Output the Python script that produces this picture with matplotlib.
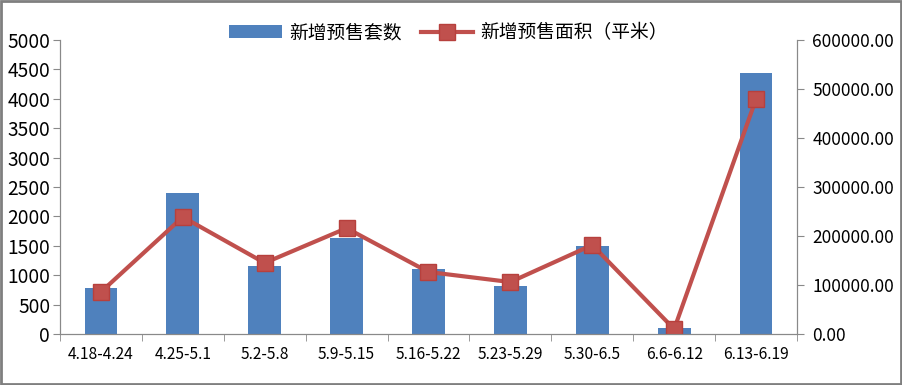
import matplotlib.pyplot as plt
import numpy as np
from matplotlib.ticker import FormatStrFormatter

plt.rcParams['font.family'] = ['Noto Sans CJK SC', 'DejaVu Sans']

weeks = ['4.18-4.24', '4.25-5.1', '5.2-5.8', '5.9-5.15', '5.16-5.22',
         '5.23-5.29', '5.30-6.5', '6.6-6.12', '6.13-6.19']
units = [790, 2390, 1150, 1640, 1110, 820, 1500, 100, 4440]
area = [85700, 238800, 145000, 216000, 126500, 106000, 181600, 10000, 479600]

bar_color = '#4F81BD'
line_color = '#C0504D'
grey = '#898989'

fig = plt.figure(figsize=(9.03, 3.85), dpi=100)
fig.patches.append(plt.Rectangle((0.001, 0.002), 0.997, 0.995, transform=fig.transFigure,
                                 fill=False, edgecolor='#7f7f7f', linewidth=2))
ax = fig.add_axes([0.0664, 0.1325, 0.8162, 0.7635])
ax2 = ax.twinx()

x = np.arange(len(weeks))
bars = ax.bar(x, units, width=0.4, color=bar_color, label='新增预售套数')
line, = ax2.plot(x, area, color=line_color, linewidth=3, marker='s', markersize=12,
                 markerfacecolor=line_color, markeredgecolor='#B7403D',
                 label='新增预售面积（平米）')

ax.set_xlim(-0.5, len(weeks) - 0.5)
ax.set_ylim(0, 5000)
ax.set_yticks(range(0, 5001, 500))
ax2.set_ylim(0, 600000)
ax2.set_yticks(range(0, 600001, 100000))
ax2.yaxis.set_major_formatter(FormatStrFormatter('%.2f'))

ax.set_xticks(x)
ax.set_xticklabels(weeks, fontsize=11.2)
ax.set_xticks(np.arange(-0.5, len(weeks)), minor=True)
ax.tick_params(axis='x', which='major', length=0, pad=9)
ax.tick_params(axis='x', which='minor', length=5, color=grey)
ax.tick_params(axis='y', labelsize=13.8, length=5, color=grey, pad=2)
ax2.tick_params(axis='y', labelsize=12.5, length=5, color=grey, pad=6)

for a in (ax, ax2):
    a.spines['top'].set_visible(False)
    for s in ('left', 'right', 'bottom'):
        a.spines[s].set_color(grey)

fig.legend(handles=[bars, line], loc='center', bbox_to_anchor=(0.497, 0.915), ncol=2,
           frameon=False, fontsize=13.5, handlelength=2.8, columnspacing=1.0,
           handletextpad=0.4)

fig.savefig('out.png', dpi=100)
